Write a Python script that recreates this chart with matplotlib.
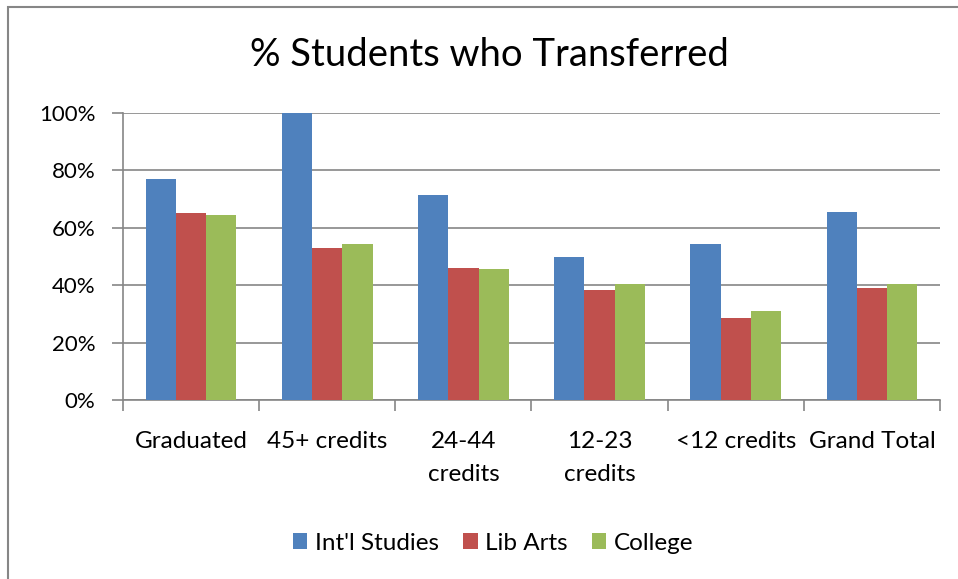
import matplotlib.pyplot as plt
from matplotlib.patches import Rectangle
from matplotlib.ticker import PercentFormatter, FixedLocator
import numpy as np

plt.rcParams['font.family'] = ['Lato', 'DejaVu Sans']

categories = ["Graduated", "45+ credits", "24-44\ncredits", "12-23\ncredits", "<12 credits", "Grand Total"]
intl_studies = [77.0, 100.0, 71.5, 50.0, 54.5, 65.5]
lib_arts = [65.0, 53.0, 46.0, 38.5, 28.5, 39.0]
college = [64.3, 54.5, 45.5, 40.5, 31.0, 40.3]
series_names = ["Int'l Studies", "Lib Arts", "College"]
colors = ["#4f81bd", "#c0504d", "#9bbb59"]

fig = plt.figure(figsize=(9.58, 5.79), dpi=100)
ax = fig.add_axes([123 / 958, 1 - 400 / 579, (940 - 123) / 958, (400 - 113) / 579])

# outer chart border (clipped by the image on right / bottom)
fig.patches.append(Rectangle((8 / 958, -0.05), 1.2, 1 - 7 / 579 + 0.05,
                             transform=fig.transFigure, fill=False,
                             edgecolor="#868686", linewidth=1.5))

x = np.arange(len(categories))
w = 0.222
for i, (vals, name, c) in enumerate(zip([intl_studies, lib_arts, college], series_names, colors)):
    ax.bar(x + (i - 1) * w, vals, width=w, color=c, label=name, zorder=3)

ax.set_xlim(-0.5, len(categories) - 0.5)
ax.set_ylim(0, 100)
ax.set_yticks(np.arange(0, 101, 20))
ax.yaxis.set_major_formatter(PercentFormatter(decimals=0))
ax.yaxis.grid(True, color="#868686", linewidth=1.2, zorder=0)

ax.set_xticks(x)
ax.set_xticklabels(categories, fontsize=17.5, linespacing=1.72, va="top")
ax.xaxis.set_minor_locator(FixedLocator(np.arange(-0.5, len(categories), 1)))
ax.tick_params(axis="x", which="major", length=0, pad=22)
ax.tick_params(axis="x", which="minor", length=8, width=1.2, color="#868686")
ax.tick_params(axis="y", length=8, width=1.2, color="#868686", labelsize=16, pad=12)

for s in ["top", "right"]:
    ax.spines[s].set_visible(False)
for s in ["left", "bottom"]:
    ax.spines[s].set_color("#868686")
    ax.spines[s].set_linewidth(1.2)

fig.text(489 / 958, 1 - 55 / 579, "% Students who Transferred", fontsize=27.5,
         ha="center", va="center")

fig.legend(loc="center", bbox_to_anchor=(493 / 958, 1 - 543 / 579), ncol=3,
           frameon=False, fontsize=17.5, handlelength=0.6, handleheight=0.6,
           handletextpad=0.3, columnspacing=1.0)

fig.savefig("out.png", dpi=100)
